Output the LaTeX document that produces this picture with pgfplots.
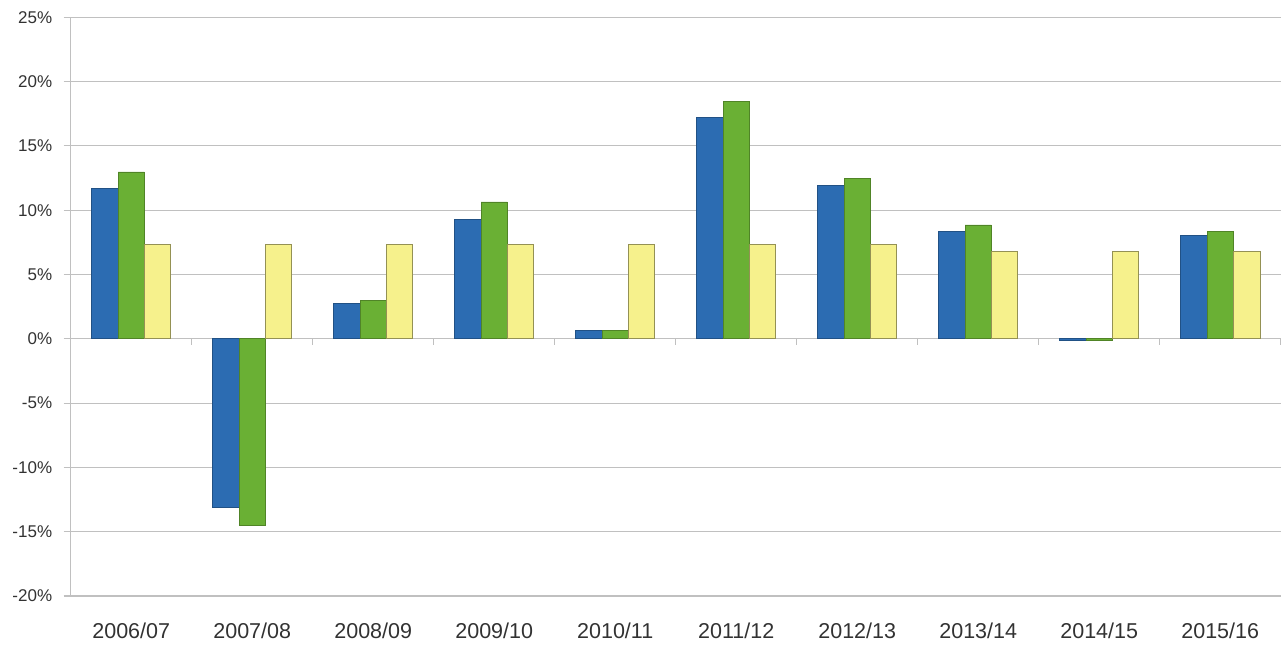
\documentclass[border=0pt]{standalone}
\usepackage{fontspec}
\setmainfont{Liberation Sans}
\usepackage{pgfplots}
\pgfplotsset{compat=1.18}
\definecolor{cblue}{RGB}{44,108,178}
\definecolor{cgreen}{RGB}{106,176,52}
\definecolor{cyellow}{RGB}{246,241,140}
\definecolor{gridgray}{RGB}{192,192,192}
\definecolor{labgray}{RGB}{50,50,50}
\begin{document}
\begin{tikzpicture}[x=1pt,y=1pt]
\useasboundingbox (0,0) rectangle (1283,652);
\begin{axis}[
  at={(70.7pt,56pt)}, anchor=south west, scale only axis,
  width=1210pt, height=578.7pt,
  xmin=-0.5, xmax=9.5, ymin=-20, ymax=25,
  axis lines*=left,
  axis line style={draw=gridgray, line width=1.1pt},
  ymajorgrids, grid style={draw=gridgray, line width=1.1pt},
  ytick={-20,-15,...,25},
  yticklabels={-20\%,-15\%,-10\%,-5\%,0\%,5\%,10\%,15\%,20\%,25\%},
  xtick={0,...,9},
  xticklabels={2006/07,2007/08,2008/09,2009/10,2010/11,2011/12,2012/13,2013/14,2014/15,2015/16},
  xtick style={draw=none},
  ytick style={draw=gridgray, line width=1.1pt},
  tick align=outside, major tick length=7pt,
  yticklabel style={font=\fontsize{17}{17}\selectfont, text=labgray, xshift=-8pt},
  xticklabel style={font=\fontsize{21.5}{21.5}\selectfont, text=labgray, yshift=-16pt},
  ybar=0pt, bar width=0.218,
  clip=false,
]
\addplot[fill=cblue, draw=cblue!75!black, line width=0.6pt] coordinates {
 (0,11.7) (1,-13.1) (2,2.77) (3,9.27) (4,0.65) (5,17.2) (6,11.9) (7,8.38) (8,-0.1) (9,8.07)};
\addplot[fill=cgreen, draw=cgreen!75!black, line width=0.6pt] coordinates {
 (0,12.97) (1,-14.5) (2,2.98) (3,10.64) (4,0.65) (5,18.45) (6,12.5) (7,8.85) (8,-0.1) (9,8.36)};
\addplot[fill=cyellow, draw=cyellow!60!black, line width=0.6pt] coordinates {
 (0,7.35) (1,7.35) (2,7.35) (3,7.37) (4,7.37) (5,7.37) (6,7.34) (7,6.82) (8,6.82) (9,6.82)};
\pgfplotsinvokeforeach{0.5,1.5,2.5,3.5,4.5,5.5,6.5,7.5,8.5,9.5}{
  \draw[gridgray, line width=1.1pt] (axis cs:#1,0) -- ([yshift=-6pt]axis cs:#1,0);
}
\end{axis}
\end{tikzpicture}
\end{document}
